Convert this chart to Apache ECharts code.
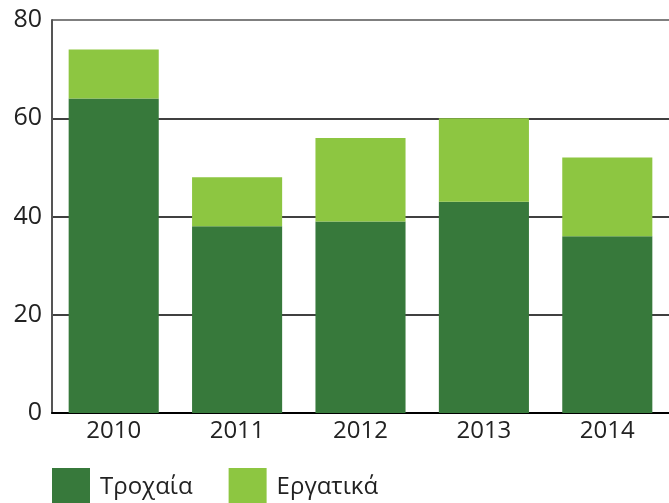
<!DOCTYPE html>
<html>
<head>
<meta charset="utf-8">
<script src="https://cdn.jsdelivr.net/npm/echarts@6/dist/echarts.min.js"></script>
<style>
  html, body { margin: 0; padding: 0; background: #fff; }
  #chart { width: 669px; height: 503px; }
</style>
</head>
<body>
<div id="chart"></div>
<script>
// years on the x axis
const years = ["2010", "2011", "2012", "2013", "2014"];
// Τροχαία (dark green, bottom part)
const trochaia = [64, 38, 39, 43, 36];
// Εργατικά (light green, stacked on top)
const ergatika = [10, 10, 17, 17, 16];

const font = "Open Sans";

const chart = echarts.init(document.getElementById("chart"));
chart.setOption({
  animation: false,
  grid: { left: 52, right: 0, top: 20, bottom: 90 },
  legend: {
    left: 52,
    top: 468,
    padding: 0,
    itemWidth: 38,
    itemHeight: 38,
    itemGap: 36,
    icon: "rect",
    textStyle: { fontFamily: font, fontSize: 24, color: "#222", padding: [0, 0, 0, 5] },
    data: ["Τροχαία", "Εργατικά"]
  },
  xAxis: {
    type: "category",
    data: years,
    axisLine: { lineStyle: { color: "#000", width: 2 } },
    axisTick: { show: false },
    axisLabel: { fontFamily: font, fontSize: 24, color: "#222", margin: 6 }
  },
  yAxis: {
    type: "value",
    min: 0,
    max: 80,
    interval: 20,
    axisLine: { show: true, lineStyle: { color: "#555", width: 2 } },
    axisTick: { show: false },
    axisLabel: { fontFamily: font, fontSize: 25, color: "#222", margin: 10 },
    splitLine: { lineStyle: { color: ["#000", "#000", "#000", "#000", "#555"], width: 1.5 } }
  },
  series: [
    {
      name: "Τροχαία",
      type: "bar",
      stack: "total",
      barWidth: "73%",
      itemStyle: { color: "#37793b" },
      data: trochaia
    },
    {
      name: "Εργατικά",
      type: "bar",
      stack: "total",
      itemStyle: { color: "#8dc641" },
      data: ergatika
    }
  ]
});
</script>
</body>
</html>
